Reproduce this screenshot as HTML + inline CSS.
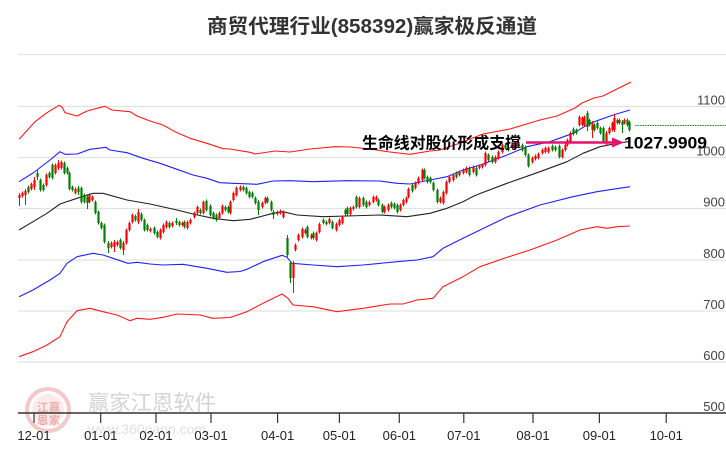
<!DOCTYPE html>
<html><head><meta charset="utf-8">
<style>
html,body{margin:0;padding:0;background:#fff;width:726px;height:450px;overflow:hidden}
svg{display:block}
</style></head>
<body>
<svg id="c" width="726" height="450" viewBox="0 0 726 450" xmlns="http://www.w3.org/2000/svg" font-family="'Liberation Sans','Noto Sans CJK SC',sans-serif">
<rect width="726" height="450" fill="#fff"/>
<!-- title -->
<text x="207" y="33" font-size="20" font-weight="bold" fill="#333" textLength="330" lengthAdjust="spacingAndGlyphs">商贸代理行业(858392)赢家极反通道</text>
<!-- gridlines -->
<g stroke="#e2e2e2" stroke-width="1.2">
<line x1="18" y1="54.5" x2="726" y2="54.5"/>
<line x1="18" y1="106.5" x2="726" y2="106.5"/>
<line x1="18" y1="157.5" x2="726" y2="157.5"/>
<line x1="18" y1="208.5" x2="726" y2="208.5"/>
<line x1="18" y1="260" x2="726" y2="260"/>
<line x1="18" y1="311" x2="726" y2="311"/>
<line x1="18" y1="362" x2="726" y2="362"/>
</g>
<!-- y labels -->
<g font-size="13" fill="#444" text-anchor="end">
<text x="725" y="104.5">1100</text>
<text x="725" y="155.5">1000</text>
<text x="725" y="206.5">900</text>
<text x="725" y="258">800</text>
<text x="725" y="309">700</text>
<text x="725" y="360">600</text>
<text x="725" y="411">500</text>
</g>
<!-- watermark -->
<g opacity="0.9">
<circle cx="48" cy="410" r="21" fill="none" stroke="#f2c4c4" stroke-width="4"/>
<circle cx="48" cy="410" r="16" fill="#fbe9e9" stroke="none"/>
<g font-size="11" fill="#eaa3a3" font-weight="bold" font-family="'Noto Sans CJK SC',sans-serif">
<text x="37" y="411">江</text><text x="49" y="411">赢</text>
<text x="37" y="424">恩</text><text x="49" y="424">家</text>
</g>
<text x="88" y="410" font-size="21" fill="#cfcfcf" font-family="'Liberation Sans','Noto Sans CJK SC',sans-serif" textLength="128" lengthAdjust="spacingAndGlyphs">赢家江恩软件</text>
<text x="88" y="434" font-size="14" fill="#dcdcdc" textLength="118" lengthAdjust="spacingAndGlyphs">www.360gann.com</text>
</g>
<!-- bands -->
<g fill="none" stroke-width="1.1" stroke-linejoin="round">
<polyline stroke="#ff1a1a" points="19,139 20,138.3 35,121.7 47,112.7 59,105.3 62,107 65,112.7 77,116 87,111 97,108.3 105,106.3 112,110 130,111.7 137,116 150,121 163,125 175,131.7 190,138.3 210,144.3 223,148.7 230,149 250,152.3 255,154 275,151 290,152 310,149 335,146.7 350,147 370,149 390,152 410,154.3 430,151 440,150 460,143 483,134 510,129 540,120 557,116 575,108 582,103 594,98 603,96 631,82"/>
<polyline stroke="#2020ff" points="19,181.7 33,173 50,160 60,151.7 65,154.3 77,154 90,149.3 106,147.3 110,150 127,152.7 143,158.3 160,163.3 177,169.3 193,175 207,178.3 220,182.7 233,183.3 257,184.3 273,181 290,180.7 313,181.7 347,180.7 380,181 397,183.3 410,184 430,180 447,176.7 463,170 480,165 483,164 507,155 527,146.7 550,141.7 573,133.3 590,123.3 613,115 630,110"/>
<polyline stroke="#222" points="19,230 33,221.7 47,213.3 60,204 77,198.3 93,193.3 103,193.3 127,200 150,204 177,210 193,214 213,218.3 233,220.7 250,219.3 273,213.3 283,211.7 297,215 323,216.7 347,216 380,215 407,216.7 430,213.3 447,208.3 463,201.7 473,196.5 480,193.5 507,183.3 540,171.7 567,161.7 583,153.3 600,146.7 617,143.3 628,141.7"/>
<polyline stroke="#2020ff" points="19,296.7 33,290 50,280 60,273.3 67,263.3 77,256.7 93,253.3 103,255 113,258.3 128,263.3 137,262.3 150,264 163,265 183,264.3 207,268.3 227,272.3 240,271.5 247,269.3 263,261.7 282,255.3 287,257.3 292,263.3 313,265 337,266.7 363,265 397,261.7 417,260 433,256.7 443,248.3 463,238.3 480,230 507,217 540,205 573,196.7 597,191.7 630,186.7"/>
<polyline stroke="#ff1a1a" points="19,356.7 33,351.7 47,345 60,336.7 67,321.7 77,310.7 90,308.3 103,311.7 117,315 130,320.7 137,318.3 150,319.3 163,317.3 177,314 200,315 213,318.3 230,317.5 247,311.7 263,303.3 282,294 288,298.3 293,305 313,306.7 337,311.7 363,308.3 390,304 403,304 417,300 433,298.3 443,286.7 463,276.7 480,266.7 505,258 530,250 557,240 580,230 597,226.7 607,228.3 617,226.7 630,226"/>
</g>
<g id="candles"></g>
<!-- dotted last price -->
<line x1="635" y1="125.5" x2="726" y2="125.5" stroke="#1a8a1a" stroke-width="1" stroke-dasharray="1.5,1"/>
<!-- annotation -->
<line x1="526" y1="142.5" x2="614" y2="142.5" stroke="#e6136e" stroke-width="2.6"/>
<polygon points="612,137.5 624,142.5 612,147.5" fill="#e6136e"/>
<text x="362" y="148.5" font-size="16" font-weight="bold" fill="#000" textLength="159" lengthAdjust="spacingAndGlyphs">生命线对股价形成支撑</text>
<text x="624" y="148.5" font-size="16.8" font-weight="bold" fill="#000" textLength="83" lengthAdjust="spacingAndGlyphs">1027.9909</text>
<!-- x axis -->
<line x1="18" y1="413" x2="726" y2="413" stroke="#333" stroke-width="1.4"/>
<g stroke="#333" stroke-width="1.2">
<line x1="34" y1="413" x2="34" y2="423"/>
<line x1="100.7" y1="413" x2="100.7" y2="423"/>
<line x1="156" y1="413" x2="156" y2="423"/>
<line x1="211" y1="413" x2="211" y2="423"/>
<line x1="277.6" y1="413" x2="277.6" y2="423"/>
<line x1="339.4" y1="413" x2="339.4" y2="423"/>
<line x1="399.3" y1="413" x2="399.3" y2="423"/>
<line x1="463.8" y1="413" x2="463.8" y2="423"/>
<line x1="533" y1="413" x2="533" y2="423"/>
<line x1="599.4" y1="413" x2="599.4" y2="423"/>
<line x1="666.2" y1="413" x2="666.2" y2="423"/>
</g>
<g font-size="13" fill="#222" text-anchor="middle">
<text x="34" y="440">12-01</text>
<text x="100.7" y="440">01-01</text>
<text x="156" y="440">02-01</text>
<text x="211" y="440">03-01</text>
<text x="277.6" y="440">04-01</text>
<text x="339.4" y="440">05-01</text>
<text x="399.3" y="440">06-01</text>
<text x="463.8" y="440">07-01</text>
<text x="533" y="440">08-01</text>
<text x="599.4" y="440">09-01</text>
<text x="666.2" y="440">10-01</text>
</g>
</svg>
<script>
(function(){
var d=[
[19,195,198,'r',2,8],[22,193,196,'r'],[25,191,195,'r',2,10],[28,187,192,'g'],[31,184,189,'r'],[34,180,187,'r',3,3],[37,173,177,'g',3,3],[40,180,190,'g'],[43,185,190,'g'],[46,175,185,'r'],[49,173,177,'g'],[52,165,178,'g'],[55,165,173,'r'],[58,163,168,'r',3,2],[61,162,168,'r'],[64,163,173,'g'],[67,168,173,'g'],[69,173,189,'g'],[72,187,190,'g'],[75,189,193,'r'],[78,188,192,'g',2,3],[81,188,202,'g'],[84,195,202,'g'],[87,197,203,'g',2,6],[89,195,202,'r'],[92,197,200,'r'],[95,202,213,'g'],[98,212,223,'g'],[101,223,228,'g'],[104,225,242,'g'],[108,243,248,'g',2,5],[111,243,247,'r'],[114,242,247,'r',2,5],[117,242,245,'r'],[120,240,248,'g'],[123,243,250,'r',2,5],[126,230,243,'r'],[129,223,230,'r'],[132,215,222,'r'],[135,216,220,'g'],[138,212,222,'r',3,2],[141,214,220,'g'],[144,220,230,'g'],[147,225,230,'g'],[150,229,231,'r'],[154,228,233,'g'],[157,232,237,'g'],[160,230,238,'r'],[163,225,232,'r'],[166,222,227,'r'],[169,223,227,'g'],[172,223,226,'r'],[176,221,223,'g',3,2],[179,222,225,'g'],[182,223,225,'r'],[184,222,227,'g'],[187,222,228,'r'],[190,220,223,'r'],[194,213,217,'r'],[197,207,213,'r'],[200,210,213,'g'],[203,202,213,'r'],[206,201,210,'g'],[210,206,215,'g'],[213,213,218,'g'],[216,215,220,'g'],[219,213,218,'r'],[222,206,213,'r'],[225,207,210,'g'],[228,207,212,'g'],[230,202,213,'r'],[233,193,200,'r'],[236,188,195,'r'],[240,187,190,'r'],[243,187,190,'g'],[246,188,193,'g'],[249,192,197,'g'],
[252,193,197,'g'],[255,198,203,'g'],[258,202,210,'g',2,5],[262,203,207,'r'],[265,198,203,'r'],[267,198,202,'g'],[271,202,210,'g'],[273,212,215,'g',2,4],[277,212,214,'r'],[280,211,213,'r'],[283,212,217,'r'],[287,238,255,'g',3,2],[290,263,278,'g',2,5],[293,263,278,'r',2,15],[295,245,250,'r'],[298,235,240,'r'],[302,229,237,'r'],[305,230,233,'r'],[307,227,237,'g'],[311,235,238,'r'],[313,233,238,'g'],[316,233,240,'r'],[319,224,232,'r'],[323,220,223,'g'],[326,222,224,'g'],[329,219,223,'r'],[332,222,228,'g'],[336,224,230,'r'],[339,220,225,'r'],[342,217,223,'r'],[345,210,214,'g'],[347,208,214,'g'],[350,208,214,'r'],[353,207,209,'r'],[356,197,207,'g'],[359,198,207,'r'],[363,198,205,'g'],[366,202,207,'g'],[369,202,205,'r'],[373,197,202,'r'],[376,197,200,'r'],[378,200,205,'g'],[382,205,212,'g'],[384,207,212,'r'],[388,205,210,'r'],[391,203,207,'g'],[394,204,208,'g'],[397,205,212,'g'],[400,205,210,'r'],[403,200,205,'r'],[406,198,202,'r'],[408,189,197,'r'],[412,185,191,'g'],[415,183,188,'r'],[418,178,183,'r'],[422,170,180,'r'],[424,170,178,'g'],[427,177,182,'g'],[430,178,182,'g'],[433,183,190,'g'],[437,190,202,'g'],[440,198,202,'r'],[443,192,203,'r'],[446,182,193,'r'],[449,177,182,'r'],[453,175,180,'r'],[456,173,177,'g'],[459,172,175,'r'],[463,170,173,'r'],[466,168,172,'r'],[469,168,175,'g'],[473,167,172,'r'],[476,168,175,'g'],[479,166,168,'r'],
[482,165,167,'r'],[485,153,165,'r'],[488,155,160,'g'],[492,157,162,'g'],[495,157,162,'r'],[498,152,158,'r'],[502,145,152,'r'],[505,145,148,'g'],[508,147,150,'g'],[512,145,148,'r'],[515,143,147,'r'],[518,142,145,'r'],[522,145,150,'g'],[525,147,155,'g'],[528,155,166,'g'],[532,158,162,'r'],[535,156,159,'r'],[538,154,158,'r'],[542,150,153,'r'],[545,148,152,'r'],[548,148,152,'r'],[552,146,150,'g'],[555,147,150,'g'],[559,146,157,'g'],[562,150,157,'r'],[565,145,150,'r'],[567,140,145,'r'],[570,133,142,'r'],[573,129,134,'g'],[576,130,133,'g'],[579,117,125,'r'],[582,118,125,'r'],[584,117,125,'r'],[587,113,127,'g',2,4],[589,120,125,'g'],[592,123,130,'r',2,8],[594,125,130,'g'],[597,123,128,'g'],[600,128,133,'g'],[603,128,142,'g'],[606,133,143,'r',2,3],[609,128,133,'r'],[612,123,130,'r'],[614,118,130,'r',4,2],[617,120,123,'g'],[619,120,123,'r'],[622,122,125,'g',2,8],[624,120,123,'r'],[627,120,125,'g'],[629,122,130,'g']
];
var g=document.getElementById("candles"),s="";
for(var i=0;i<d.length;i++){
var c=d[i],x=c[0],t=c[1],b=c[2],col=c[3]=='r'?'#ff0000':'#008000',wt=c[4]!=null?c[4]:1.5,wb=c[5]!=null?c[5]:1.5;
s+='<line x1="'+(x+0.5)+'" y1="'+(t-wt)+'" x2="'+(x+0.5)+'" y2="'+(b+wb)+'" stroke="'+col+'" stroke-width="1"/>';
s+='<rect x="'+(x-0.6)+'" y="'+t+'" width="2.2" height="'+Math.max(1,b-t)+'" fill="'+col+'"/>';
}
g.innerHTML=s;
})();
</script>
</body></html>
